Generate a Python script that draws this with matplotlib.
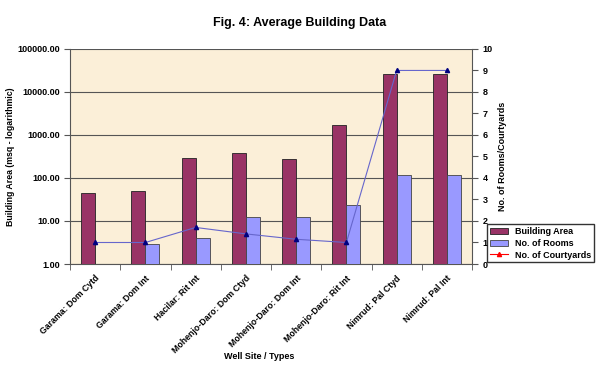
import matplotlib
matplotlib.use("Agg")
import matplotlib.pyplot as plt
from matplotlib.lines import Line2D
import numpy as np

plt.rcParams['font.family'] = ['Liberation Sans', 'DejaVu Sans']
plt.rcParams['font.weight'] = 'bold'
plt.rcParams['axes.labelweight'] = 'bold'

sites = ["Garama: Dom Cytd", "Garama: Dom Int", "Hacilar: Rit Int",
         "Mohenjo-Daro: Dom Ctyd", "Mohenjo-Daro: Dom Int",
         "Mohenjo-Daro: Rit Int", "Nimrud: Pal Ctyd", "Nimrud: Pal Int"]
building_area = [45, 50, 288, 375, 276, 1690, 26000, 26000]
rooms = [1, 2.9, 4, 12.3, 12.3, 23.5, 115, 115]
courtyards = [1, 1, 1.7, 1.4, 1.15, 1.0, 9, 9]

fig = plt.figure(figsize=(6, 3.68), dpi=100)
ax = fig.add_axes([0.1167, 0.2826, 0.670, 0.5844])
ax.set_facecolor("#FBEFD8")

x = np.arange(len(sites))
w = 0.28
ax.bar(x - w / 2, np.array(building_area) - 1, w, bottom=1, color="#993366",
       edgecolor="#222222", linewidth=0.6, zorder=3, label="Building Area")
ax.bar(x + w / 2, np.array(rooms) - 1, w, bottom=1, color="#9999FF",
       edgecolor="#444444", linewidth=0.6, zorder=3, label="No. of Rooms")
ax.set_yscale("log")
ax.set_ylim(1, 100000)
ax.set_xlim(-0.5, len(sites) - 0.5)
ax.set_yticks([1, 10, 100, 1000, 10000, 100000])
ax.set_yticklabels(["%.2f" % v for v in [1, 10, 100, 1000, 10000, 100000]])
ax.yaxis.set_minor_locator(matplotlib.ticker.NullLocator())
ax.grid(axis="y", color="#555555", linewidth=0.8, zorder=1)
ax.set_xticks(x)
ax.set_xticklabels(sites, rotation=45, ha="right", rotation_mode="anchor", fontsize=6.3)
ax.tick_params(axis="x", which="major", length=0, pad=7)
ax.set_xticks(np.arange(len(sites) + 1) - 0.5, minor=True)
ax.tick_params(axis="x", which="minor", length=4, color="#555555")
ax.tick_params(axis="y", labelsize=6.5, length=4, color="#555555")
for s in ["top", "right"]:
    ax.spines[s].set_visible(False)
ax.spines["left"].set_color("#555555")
ax.spines["bottom"].set_color("#555555")

ax.set_ylabel("Building Area (msq - logarithmic)", fontsize=6.3)
ax.yaxis.set_label_coords(-0.137, 0.5)
ax.set_xlabel("Well Site / Types", fontsize=6.5)
ax.xaxis.set_label_coords(0.47, -0.41)

ax2 = ax.twinx()
ax2.plot(x, courtyards, color="#6666CC", linewidth=0.8, marker="^",
         markersize=3, markerfacecolor="#000080", markeredgecolor="#000080", zorder=4)
ax2.set_ylim(0, 10)
ax2.set_yticks(range(11))
ax2.tick_params(axis="y", labelsize=6.5, length=4, color="#555555")
for s in ["top", "left", "bottom"]:
    ax2.spines[s].set_visible(False)
ax2.spines["right"].set_color("#555555")
ax2.set_ylabel("No. of Rooms/Courtyards", fontsize=6.5)

fig.suptitle("Fig. 4: Average Building Data", x=0.5, y=0.955, fontsize=9, fontweight="bold")

handles, labels = ax.get_legend_handles_labels()
handles.append(Line2D([], [], color="red", linewidth=0.8, marker="^", markersize=3))
labels.append("No. of Courtyards")
fig.legend(handles, labels, loc="upper left", bbox_to_anchor=(0.812, 0.39),
           fontsize=6.5, frameon=True, fancybox=False, edgecolor="black",
           handlelength=2.0, borderpad=0.3, labelspacing=0.3, borderaxespad=0)

fig.savefig("out.png", dpi=100)
